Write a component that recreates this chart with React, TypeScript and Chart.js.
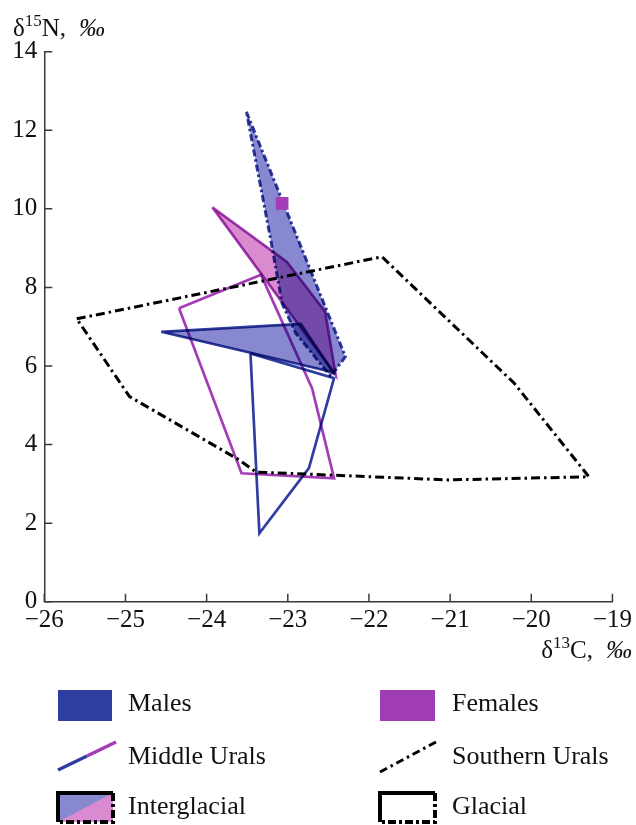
import { useEffect, useRef } from 'react';
import { Chart, registerables } from 'chart.js';

Chart.register(...registerables);

// ---- Axis ticks ----
const xTickValues = [-26, -25, -24, -23, -22, -21, -20, -19];
const yTickValues = [0, 2, 4, 6, 8, 10, 12, 14];

// ---- Southern Urals, glacial (black dash-dot, no fill) ----
const suGlacialX = [-25.6, -21.84, -20.21, -19.29, -21.02, -23.39, -23.6, -24.95];
const suGlacialY = [7.2, 8.78, 5.56, 3.18, 3.1, 3.3, 3.61, 5.22];

// ---- Southern Urals, interglacial, males (blue fill, blue dash-dot) ----
const suInterMaleX = [-23.51, -22.29, -22.47, -22.9, -23.07, -23.21];
const suInterMaleY = [12.47, 6.24, 5.73, 6.83, 7.59, 9.21];

// ---- Southern Urals, interglacial, single female ----
const suInterFemaleX = [-23.07];
const suInterFemaleY = [10.14];

// ---- Middle Urals, interglacial, females (pink fill, solid magenta) ----
const muInterFemaleX = [-23.93, -23.01, -22.54, -22.41];
const muInterFemaleY = [10.04, 8.65, 7.38, 5.77];

// ---- Middle Urals, interglacial, males (blue fill, solid blue) ----
const muInterMaleX = [-24.56, -22.84, -22.44];
const muInterMaleY = [6.87, 7.07, 5.84];

// ---- Middle Urals, glacial, males (solid blue outline) ----
const muGlacialMaleX = [-23.46, -23.35, -22.74, -22.43];
const muGlacialMaleY = [6.32, 1.74, 3.4, 5.69];

// ---- Middle Urals, glacial, females (solid magenta outline) ----
const muGlacialFemaleX = [-24.34, -23.33, -22.7, -22.43, -23.57];
const muGlacialFemaleY = [7.47, 8.32, 5.43, 3.14, 3.27];

const legendLabels = ['Males', 'Females', 'Middle Urals', 'Southern Urals', 'Interglacial', 'Glacial'];

const BLUE = '#2f3da0';
const MAGENTA = '#a43cb8';
const BLUE_FILL = 'rgb(136,136,208)';
const PINK_FILL = 'rgb(218,138,206)';
const FONT = "'Liberation Serif', 'Times New Roman', serif";
const DASHDOT = [9, 4, 2.5, 4];

const pts = (xs: number[], ys: number[]) => xs.map((x, i) => ({ x, y: ys[i] }));
const closed = (xs: number[], ys: number[]) => {
  const p = pts(xs, ys);
  return [...p, p[0]];
};

type Part = { t: string; size: number; italic?: boolean; dy?: number; gap?: number };

function drawRich(ctx: CanvasRenderingContext2D, parts: Part[], x: number, y: number, align: 'left' | 'right') {
  ctx.save();
  ctx.textBaseline = 'alphabetic';
  ctx.textAlign = 'left';
  let total = 0;
  const widths = parts.map((p) => {
    ctx.font = `${p.italic ? 'italic ' : ''}${p.size}px ${FONT}`;
    const w = ctx.measureText(p.t).width + (p.gap || 0);
    total += w;
    return w;
  });
  let cx = align === 'right' ? x - total : x;
  parts.forEach((p, i) => {
    ctx.font = `${p.italic ? 'italic ' : ''}${p.size}px ${FONT}`;
    ctx.fillStyle = '#111';
    ctx.fillText(p.t, cx, y + (p.dy || 0));
    cx += widths[i];
  });
  ctx.restore();
}

const decorPlugin = {
  id: 'decor',
  beforeDatasetsDraw(chart: any) {
    chart.ctx.save();
    chart.ctx.globalCompositeOperation = 'multiply';
  },
  beforeDatasetDraw(chart: any, args: any) {
    const ds = chart.data.datasets[args.index];
    if (ds.normalBlend) chart.ctx.globalCompositeOperation = 'source-over';
  },
  afterDatasetDraw(chart: any) {
    chart.ctx.globalCompositeOperation = 'multiply';
  },
  afterDatasetsDraw(chart: any) {
    chart.ctx.restore();
  },
  afterDraw(chart: any) {
    const ctx: CanvasRenderingContext2D = chart.ctx;
    const area = chart.chartArea;
    const xs = chart.scales.x;
    const ys = chart.scales.y;
    ctx.save();
    // inward ticks
    ctx.strokeStyle = '#3a3a3a';
    ctx.lineWidth = 1.5;
    ctx.beginPath();
    xTickValues.forEach((v) => {
      const px = xs.getPixelForValue(v);
      ctx.moveTo(px, area.bottom);
      ctx.lineTo(px, area.bottom - 8);
    });
    yTickValues.forEach((v) => {
      const py = ys.getPixelForValue(v);
      ctx.moveTo(area.left, py);
      ctx.lineTo(area.left + 8, py);
    });
    ctx.stroke();

    // axis titles
    drawRich(
      ctx,
      [
        { t: 'δ', size: 25 },
        { t: '15', size: 17, dy: -10 },
        { t: 'N,', size: 25 },
        { t: '‰', size: 26, italic: true, gap: 0 },
      ].map((p, i) => (i === 2 ? { ...p, gap: 13 } : p)),
      13,
      36,
      'left'
    );
    drawRich(
      ctx,
      [
        { t: 'δ', size: 25 },
        { t: '13', size: 17, dy: -10 },
        { t: 'C,', size: 25, gap: 13 },
        { t: '‰', size: 26, italic: true },
      ],
      632,
      658,
      'right'
    );

    // legend
    const col1 = 58;
    const col2 = 380;
    const textOff = 70;
    ctx.font = `26px ${FONT}`;
    ctx.fillStyle = '#111';
    ctx.textBaseline = 'alphabetic';
    ctx.textAlign = 'left';

    // row 1
    ctx.fillStyle = BLUE;
    ctx.fillRect(col1, 690, 54, 31);
    ctx.fillStyle = '#a03cb4';
    ctx.fillRect(col2, 690, 55, 31);
    ctx.fillStyle = '#111';
    ctx.fillText(legendLabels[0], col1 + textOff, 711);
    ctx.fillText(legendLabels[1], col2 + textOff + 2, 711);

    // row 2
    ctx.lineWidth = 3.5;
    ctx.lineCap = 'butt';
    ctx.strokeStyle = BLUE;
    ctx.beginPath();
    ctx.moveTo(col1, 770);
    ctx.lineTo(col1 + 29, 756);
    ctx.stroke();
    ctx.strokeStyle = MAGENTA;
    ctx.beginPath();
    ctx.moveTo(col1 + 29, 756);
    ctx.lineTo(col1 + 58, 742);
    ctx.stroke();
    ctx.strokeStyle = '#000';
    ctx.lineWidth = 3;
    ctx.setLineDash([8, 4, 2.5, 4]);
    ctx.beginPath();
    ctx.moveTo(col2, 772);
    ctx.lineTo(col2 + 56, 742);
    ctx.stroke();
    ctx.setLineDash([]);
    ctx.fillStyle = '#111';
    ctx.fillText(legendLabels[2], col1 + textOff, 764);
    ctx.fillText(legendLabels[3], col2 + textOff + 2, 764);

    // row 3 boxes
    const boxW = 55;
    const boxTop = 793;
    const boxBottom = 822;
    ctx.fillStyle = BLUE_FILL;
    ctx.fillRect(col1, boxTop, boxW, boxBottom - boxTop);
    ctx.fillStyle = PINK_FILL;
    ctx.beginPath();
    ctx.moveTo(col1, boxBottom);
    ctx.lineTo(col1 + boxW, boxTop);
    ctx.lineTo(col1 + boxW, boxBottom);
    ctx.closePath();
    ctx.fill();
    [col1, col2].forEach((c) => {
      ctx.strokeStyle = '#000';
      ctx.lineWidth = 4;
      ctx.setLineDash([]);
      ctx.beginPath();
      ctx.moveTo(c, boxBottom);
      ctx.lineTo(c, boxTop);
      ctx.lineTo(c + boxW, boxTop);
      ctx.stroke();
      ctx.setLineDash([8, 3, 3, 3]);
      ctx.beginPath();
      ctx.moveTo(c + boxW, boxTop);
      ctx.lineTo(c + boxW, boxBottom);
      ctx.lineTo(c, boxBottom);
      ctx.stroke();
      ctx.setLineDash([]);
    });
    ctx.fillStyle = '#111';
    ctx.fillText(legendLabels[4], col1 + textOff, 814);
    ctx.fillText(legendLabels[5], col2 + textOff + 2, 814);
    ctx.restore();
  },
};

const fmt = (v: number) => (v < 0 ? '\u2212' + Math.abs(v) : String(v));

export default function App() {
  const ref = useRef<HTMLCanvasElement>(null);
  useEffect(() => {
    document.body.style.margin = '0';
    const canvas = ref.current!;
    const chart = new Chart(canvas, {
      type: 'scatter',
      data: {
        datasets: [
          {
            label: 'female point',
            data: pts(suInterFemaleX, suInterFemaleY),
            pointStyle: 'rect',
            pointRadius: 9,
            backgroundColor: '#a43cb8',
            borderColor: '#a43cb8',
            borderWidth: 0,
            showLine: false,
            order: 0,
            normalBlend: true,
          } as any,
          {
            label: 'SU glacial',
            data: closed(suGlacialX, suGlacialY),
            showLine: true,
            fill: false,
            borderColor: '#000',
            borderWidth: 3,
            borderDash: DASHDOT,
            pointRadius: 0,
            order: 1,
          } as any,
          {
            label: 'MU glacial females',
            data: closed(muGlacialFemaleX, muGlacialFemaleY),
            showLine: true,
            fill: false,
            borderColor: MAGENTA,
            borderWidth: 2.7,
            pointRadius: 0,
            order: 2,
          } as any,
          {
            label: 'MU glacial males',
            data: closed(muGlacialMaleX, muGlacialMaleY),
            showLine: true,
            fill: false,
            borderColor: BLUE,
            borderWidth: 2.7,
            pointRadius: 0,
            order: 3,
          } as any,
          {
            label: 'MU interglacial females',
            data: closed(muInterFemaleX, muInterFemaleY),
            showLine: true,
            fill: 'shape',
            backgroundColor: PINK_FILL,
            borderColor: MAGENTA,
            borderWidth: 2.7,
            pointRadius: 0,
            order: 4,
          } as any,
          {
            label: 'SU interglacial males',
            data: closed(suInterMaleX, suInterMaleY),
            showLine: true,
            fill: 'shape',
            backgroundColor: BLUE_FILL,
            borderColor: BLUE,
            borderWidth: 3,
            borderDash: [7, 3, 2.5, 3],
            pointRadius: 0,
            order: 5,
          } as any,
          {
            label: 'MU interglacial males',
            data: closed(muInterMaleX, muInterMaleY),
            showLine: true,
            fill: 'shape',
            backgroundColor: BLUE_FILL,
            borderColor: BLUE,
            borderWidth: 2.7,
            pointRadius: 0,
            order: 6,
          } as any,
        ],
      },
      options: {
        animation: false,
        responsive: false,
        devicePixelRatio: 1,
        layout: { padding: { left: 0, right: 21, top: 51.7, bottom: 183.3 } },
        plugins: { legend: { display: false }, tooltip: { enabled: false } },
        elements: { line: { tension: 0 } },
        scales: {
          x: {
            type: 'linear',
            min: -26,
            max: -19,
            afterBuildTicks: (s: any) => {
              s.ticks = xTickValues.map((v) => ({ value: v }));
            },
            afterFit: (s: any) => {
              s.height = 40;
            },
            grid: { display: true, drawOnChartArea: false, drawTicks: false },
            border: { display: true, color: '#3a3a3a', width: 1.5 },
            ticks: {
              padding: 4,
              color: '#111',
              font: { family: FONT, size: 25 },
              callback: (v: any) => fmt(Number(v)),
              maxRotation: 0,
              autoSkip: false,
            },
          },
          y: {
            type: 'linear',
            min: 0,
            max: 14,
            afterBuildTicks: (s: any) => {
              s.ticks = yTickValues.map((v) => ({ value: v }));
            },
            afterFit: (s: any) => {
              s.width = 44.3;
            },
            grid: { display: true, drawOnChartArea: false, drawTicks: false },
            border: { display: true, color: '#3a3a3a', width: 1.5 },
            ticks: {
              padding: 7,
              color: '#111',
              font: { family: FONT, size: 25 },
              callback: (v: any) => fmt(Number(v)),
              autoSkip: false,
            },
          },
        },
      } as any,
      plugins: [decorPlugin as any],
    });
    return () => chart.destroy();
  }, []);
  return <canvas ref={ref} width={636} height={825} style={{ display: 'block', width: 636, height: 825 }} />;
}
